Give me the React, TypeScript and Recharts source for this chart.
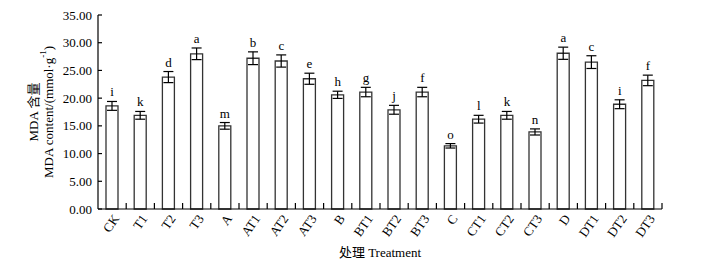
import React from 'react';
import { ComposedChart, Bar, ErrorBar, Line, LabelList, XAxis, YAxis } from 'recharts';

const categories = ['CK','T1','T2','T3','A','AT1','AT2','AT3','B','BT1','BT2','BT3','C','CT1','CT2','CT3','D','DT1','DT2','DT3'];
const values = [18.6,16.9,23.8,28.0,15.0,27.2,26.7,23.5,20.6,21.1,17.9,21.1,11.4,16.2,16.9,13.9,28.1,26.5,18.9,23.2];
const errors = [0.8,0.7,1.0,1.05,0.6,1.15,1.1,1.0,0.65,0.85,0.8,0.85,0.4,0.7,0.7,0.55,1.1,1.15,0.8,0.95];
const letters = ['i','k','d','a','m','b','c','e','h','g','j','f','o','l','k','n','a','c','i','f'];
const yTicks = [0,5,10,15,20,25,30,35];

const data = categories.map((c, i) => ({
  name: c,
  value: values[i],
  err: errors[i],
  top: values[i] + errors[i],
  letter: letters[i],
}));

const FONT = "'Liberation Serif', 'Times New Roman', 'Noto Sans CJK SC', serif";

const XTick = (props: any) => {
  const { x, y, payload } = props;
  const off = payload && payload.offset != null ? payload.offset : 14.1;
  return (
    <g>
      <line x1={x + off} y1={y} x2={x + off} y2={y - 6} stroke="#000" strokeWidth={1.2} />
      <text
        transform={`translate(${x + 4},${y + 7}) rotate(-55)`}
        textAnchor="end"
        dominantBaseline="central"
        fontFamily={FONT}
        fontSize={13}
        fill="#000"
      >
        {payload.value}
      </text>
    </g>
  );
};

const YTick = (props: any) => {
  const { x, y, payload } = props;
  return (
    <g>
      <line x1={x + 6} y1={y} x2={x + 10} y2={y} stroke="#000" strokeWidth={1.2} />
      <text x={x} y={y} dy="0.355em" textAnchor="end" fontFamily={FONT} fontSize={13} fill="#000">
        {Number(payload.value).toFixed(2)}
      </text>
    </g>
  );
};

const YLabel = (props: any) => {
  const vb = props.viewBox || { x: 0, y: 0, width: 0, height: 0 };
  const cy = vb.y + vb.height / 2;
  const x1 = vb.x + 33;
  const x2 = vb.x + 48;
  return (
    <g>
      <text
        transform={`translate(${x1},${cy}) rotate(-90)`}
        textAnchor="middle"
        dominantBaseline="central"
        fontFamily={FONT}
        fontSize={13}
        fill="#000"
      >
        MDA 含量
      </text>
      <text
        transform={`translate(${x2},${cy}) rotate(-90)`}
        textAnchor="middle"
        dominantBaseline="central"
        fontFamily={FONT}
        fontSize={13}
        fill="#000"
      >
        MDA content/(mmol·g
        <tspan fontSize={9} dy={-5}>-1</tspan>
        <tspan dy={5}>)</tspan>
      </text>
    </g>
  );
};

const XLabel = (props: any) => {
  const vb = props.viewBox || { x: 0, y: 0, width: 0, height: 0 };
  return (
    <text
      x={vb.x + vb.width / 2}
      y={vb.y + 48}
      textAnchor="middle"
      fontFamily={FONT}
      fontSize={13}
      fill="#000"
    >
      处理 Treatment
    </text>
  );
};

export default function App() {
  return (
    <div style={{ position: 'absolute', left: 0, top: 0, background: '#fff' }}>
      <ComposedChart
        width={715}
        height={267}
        data={data}
        margin={{ top: 15, right: 53, bottom: 0, left: 0 }}
      >
        <XAxis
          dataKey="name"
          height={58}
          interval={0}
          tickLine={false}
          tickSize={0}
          tickMargin={0}
          axisLine={{ stroke: '#000', strokeWidth: 1.2 }}
          tick={<XTick />}
          label={<XLabel />}
        />
        <YAxis
          width={98}
          domain={[0, 35]}
          ticks={yTicks}
          interval={0}
          tickLine={false}
          tickSize={0}
          tickMargin={6}
          axisLine={{ stroke: '#000', strokeWidth: 1.2 }}
          tick={<YTick />}
          label={<YLabel />}
        />
        <Bar dataKey="value" fill="#fff" stroke="#333" strokeWidth={1.3} barSize={12} isAnimationActive={false}>
          <ErrorBar dataKey="err" width={5} stroke="#000" strokeWidth={1.2} />
        </Bar>
        <Line
          dataKey="top"
          stroke="none"
          dot={false}
          activeDot={false}
          legendType="none"
          isAnimationActive={false}
        >
          <LabelList dataKey="letter" position="top" offset={5} fontFamily={FONT} fontSize={13} fill="#000" />
        </Line>
      </ComposedChart>
    </div>
  );
}
